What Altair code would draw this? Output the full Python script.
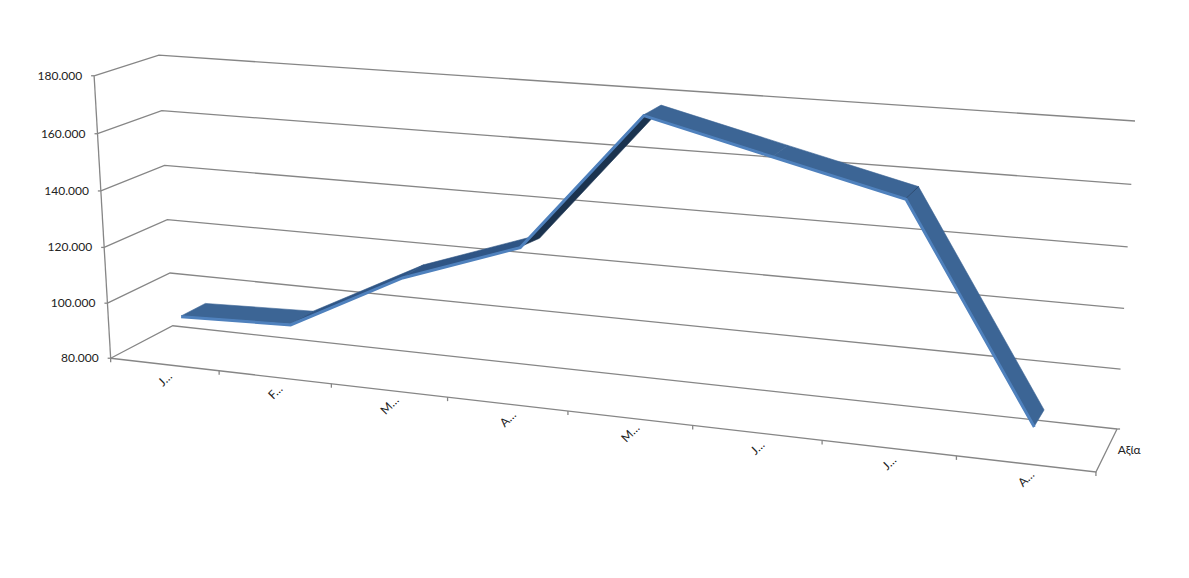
import altair as alt
import numpy as np
import pandas as pd

# ---- chart values
CATEGORIES = ["J…", "F…", "M…", "A…", "M…", "J…", "J…", "A…"]
VALUES = [94000, 95300, 116000, 130300, 177300, 167100, 157000, 88000]
TICKS = [80000, 100000, 120000, 140000, 160000, 180000]
TICK_LABELS = ["80.000", "100.000", "120.000", "140.000", "160.000", "180.000"]
SERIES_NAME = "Αξία"

# ---- styling
GRID = "#868686"
TEXT = "#222222"
FONT = "Lato"
EDGE = "#4F81BD"
TOP = "#3C6595"
SEGMENT_FILL = [TOP, "#2F5585", "#2F5585", "#1B334F", TOP, TOP, TOP]
SEGMENT_DROP = [0, 0, 0, 1200, 0, 0, 0]
RIBBON_FRONT, RIBBON_BACK = 0.3, 0.7

# ---- camera: 3-D box corners (category, value step, depth) seen on the page
BOX = [(0, 0, 0), (0, 5, 0), (0, 0, 1), (0, 5, 1), (8, 0, 1), (8, 5, 1), (8, 0, 0)]
SEEN = [(110.7, 358), (94, 76), (172.7, 326), (159, 55), (1117, 429), (1135, 121), (1096, 472)]
rows, rhs = [], []
for (u, v, d), (x, y) in zip(BOX, SEEN):
    rows.append([u, v, d, 1, 0, 0, 0, 0, -x * u, -x * v, -x * d]); rhs.append(x)
    rows.append([0, 0, 0, 0, u, v, d, 1, -y * u, -y * v, -y * d]); rhs.append(y)
P = np.append(np.linalg.lstsq(np.array(rows, float), np.array(rhs, float), rcond=None)[0], 1).reshape(3, 4)


def project(u, value, d):
    h = P @ np.array([u, (value - 80000) / 20000, d, 1.0])
    return h[0] / h[2], h[1] / h[2]


W, H = 1173, 562
X = alt.X("x:Q", scale=alt.Scale(domain=[8, 8 + W]), axis=None)
Y = alt.Y("y:Q", scale=alt.Scale(domain=[8 + H, 8]), axis=None)


def path_frame(paths):
    recs = []
    for pid, pts in enumerate(paths):
        for k, (x, y) in enumerate(pts):
            recs.append({"x": x, "y": y, "k": k, "id": pid})
    return pd.DataFrame(recs)


# ---- box lines
frame_paths = []
for t in TICKS:
    frame_paths.append([project(0, t, 0), project(0, t, 1), project(8, t, 1)])
    a = project(0, t, 0)
    frame_paths.append([a, (a[0] - 3, a[1])])
frame_paths.append([project(0, TICKS[0], 0), project(0, TICKS[-1], 0)])
frame_paths.append([project(0, TICKS[0], 0), project(8, TICKS[0], 0), project(8, TICKS[0], 1)])
for i in range(9):
    a = project(i, TICKS[0], 0)
    frame_paths.append([a, (a[0], a[1] + 4)])
b = project(8, TICKS[0], 1)
frame_paths.append([b, (b[0] + 3, b[1])])

frame = alt.Chart(path_frame(frame_paths)).mark_line(color=GRID, strokeWidth=1.3).encode(
    x=X, y=Y, detail="id:N", order="k:Q"
)

layers = [frame]

# ---- ribbon faces
for i in range(len(VALUES) - 1):
    drop = SEGMENT_DROP[i]
    poly = [
        project(i + .5, VALUES[i], RIBBON_FRONT),
        project(i + 1.5, VALUES[i + 1], RIBBON_FRONT),
        project(i + 1.5, VALUES[i + 1] - drop, RIBBON_BACK),
        project(i + .5, VALUES[i] - drop, RIBBON_BACK),
        project(i + .5, VALUES[i], RIBBON_FRONT),
    ]
    layers.append(
        alt.Chart(path_frame([poly])).mark_line(
            fill=SEGMENT_FILL[i], stroke=SEGMENT_FILL[i], strokeWidth=0.6
        ).encode(x=X, y=Y, order="k:Q")
    )

# crease at July
crease = [project(6.5, VALUES[6], RIBBON_FRONT), project(6.5, VALUES[6], RIBBON_BACK)]
layers.append(
    alt.Chart(path_frame([crease])).mark_line(color="#2B4A70", strokeWidth=1).encode(x=X, y=Y, order="k:Q")
)

# front edge of the ribbon
edge = [project(i + .5, v, RIBBON_FRONT) for i, v in enumerate(VALUES)]
edge = [(x, y + 0.8) for x, y in edge]
layers.append(
    alt.Chart(path_frame([edge])).mark_line(color=EDGE, strokeWidth=3, strokeJoin="miter").encode(
        x=X, y=Y, order="k:Q"
    )
)

# ---- text
val_df = pd.DataFrame(
    [{"x": project(0, t, 0)[0], "y": project(0, t, 0)[1], "t": s} for t, s in zip(TICKS, TICK_LABELS)]
)
layers.append(
    alt.Chart(val_df).mark_text(align="right", baseline="middle", dx=-12, font=FONT, fontSize=12, color=TEXT).encode(
        x=X, y=Y, text="t:N"
    )
)
cat_df = pd.DataFrame(
    [{"x": project(i + .5, TICKS[0], 0)[0], "y": project(i + .5, TICKS[0], 0)[1], "t": c} for i, c in enumerate(CATEGORIES)]
)
layers.append(
    alt.Chart(cat_df).mark_text(
        align="center", baseline="middle", angle=315, dx=-10, dy=11, font=FONT, fontSize=12, color=TEXT
    ).encode(x=X, y=Y, text="t:N")
)
sx, sy = project(8, TICKS[0], 0.5)
ser_df = pd.DataFrame([{"x": sx, "y": sy, "t": SERIES_NAME}])
layers.append(
    alt.Chart(ser_df).mark_text(align="left", baseline="middle", dx=11, font=FONT, fontSize=12, color=TEXT).encode(
        x=X, y=Y, text="t:N"
    )
)

chart = alt.layer(*layers).properties(width=W, height=H, padding=0).configure_view(stroke=None)
chart.save("out.html", embed_options={"renderer": "svg", "actions": False})
